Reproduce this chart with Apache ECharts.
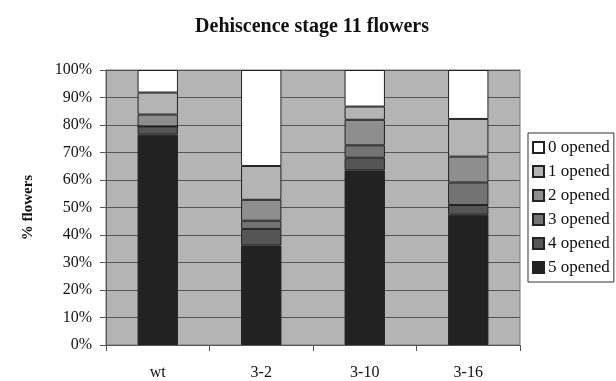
<!DOCTYPE html>
<html><head><meta charset="utf-8">
<script src="https://cdn.jsdelivr.net/npm/echarts@6/dist/echarts.min.js"></script>
<style>html,body{margin:0;padding:0;background:#fff}#c{width:616px;height:381px}</style>
</head><body><div id="c"></div>
<script>
const categories = ['wt', '3-2', '3-10', '3-16'];
const seriesNames = ['5 opened', '4 opened', '3 opened', '2 opened', '1 opened', '0 opened'];
const opened5 = [76.5, 36.2, 63.5, 47.4];
const opened4 = [3.0, 6.0, 4.6, 3.5];
const opened3 = [0.0, 3.0, 4.5, 8.2];
const opened2 = [4.3, 7.6, 9.3, 9.4];
const opened1 = [8.0, 12.3, 4.8, 13.7];
const opened0 = [8.2, 34.9, 13.3, 17.8];
const yTicks = [0, 10, 20, 30, 40, 50, 60, 70, 80, 90, 100];

const values = [opened5, opened4, opened3, opened2, opened1, opened0];
const colors = ['#222222', '#555555', '#737373', '#8e8e8e', '#b4b4b4', '#ffffff'];
const font = '"Liberation Serif", "Times New Roman", serif';

const chart = echarts.init(document.getElementById('c'));
chart.setOption({
  animation: false,
  title: {
    text: 'Dehiscence stage 11 flowers', left: 307, top: 12, textAlign: 'center',
    textStyle: {fontFamily: font, fontSize: 20, fontWeight: 'bold', color: '#111'}
  },
  legend: {
    orient: 'vertical', left: 528, top: 133,
    data: seriesNames.slice().reverse(),
    itemWidth: 11, itemHeight: 11, itemGap: 7,
    padding: [6, 4, 6, 4],
    borderColor: '#333', borderWidth: 1,
    textStyle: {fontFamily: font, fontSize: 17, color: '#111', padding: [0, 0, 0, -1]},
    icon: 'rect'
  },
  grid: {left: 106, top: 70, width: 414, height: 278, show: true,
    backgroundColor: '#b4b4b4', borderColor: '#777', borderWidth: 1},
  xAxis: {
    type: 'category', data: categories,
    axisLine: {lineStyle: {color: '#555'}},
    axisTick: {show: true, length: 6, lineStyle: {color: '#555'}},
    axisLabel: {fontFamily: font, fontSize: 16, color: '#111', margin: 20}
  },
  yAxis: {
    type: 'value', min: 0, max: 100, interval: 10,
    name: '% flowers', nameLocation: 'middle', nameGap: 70, nameRotate: 90,
    nameTextStyle: {fontFamily: font, fontSize: 15, fontWeight: 'bold', color: '#111'},
    axisLine: {show: true, lineStyle: {color: '#555'}},
    axisTick: {show: true, length: 6, lineStyle: {color: '#555'}},
    axisLabel: {fontFamily: font, fontSize: 16, color: '#111', margin: 14,
      formatter: v => yTicks.includes(v) ? v + '%' : ''},
    splitLine: {lineStyle: {color: '#555', width: 1}}
  },
  series: seriesNames.map((n, i) => ({
    name: n, type: 'bar', stack: 'all', data: values[i],
    barWidth: '39%',
    itemStyle: {color: colors[i], borderColor: '#222', borderWidth: 1}
  }))
});
</script></body></html>
